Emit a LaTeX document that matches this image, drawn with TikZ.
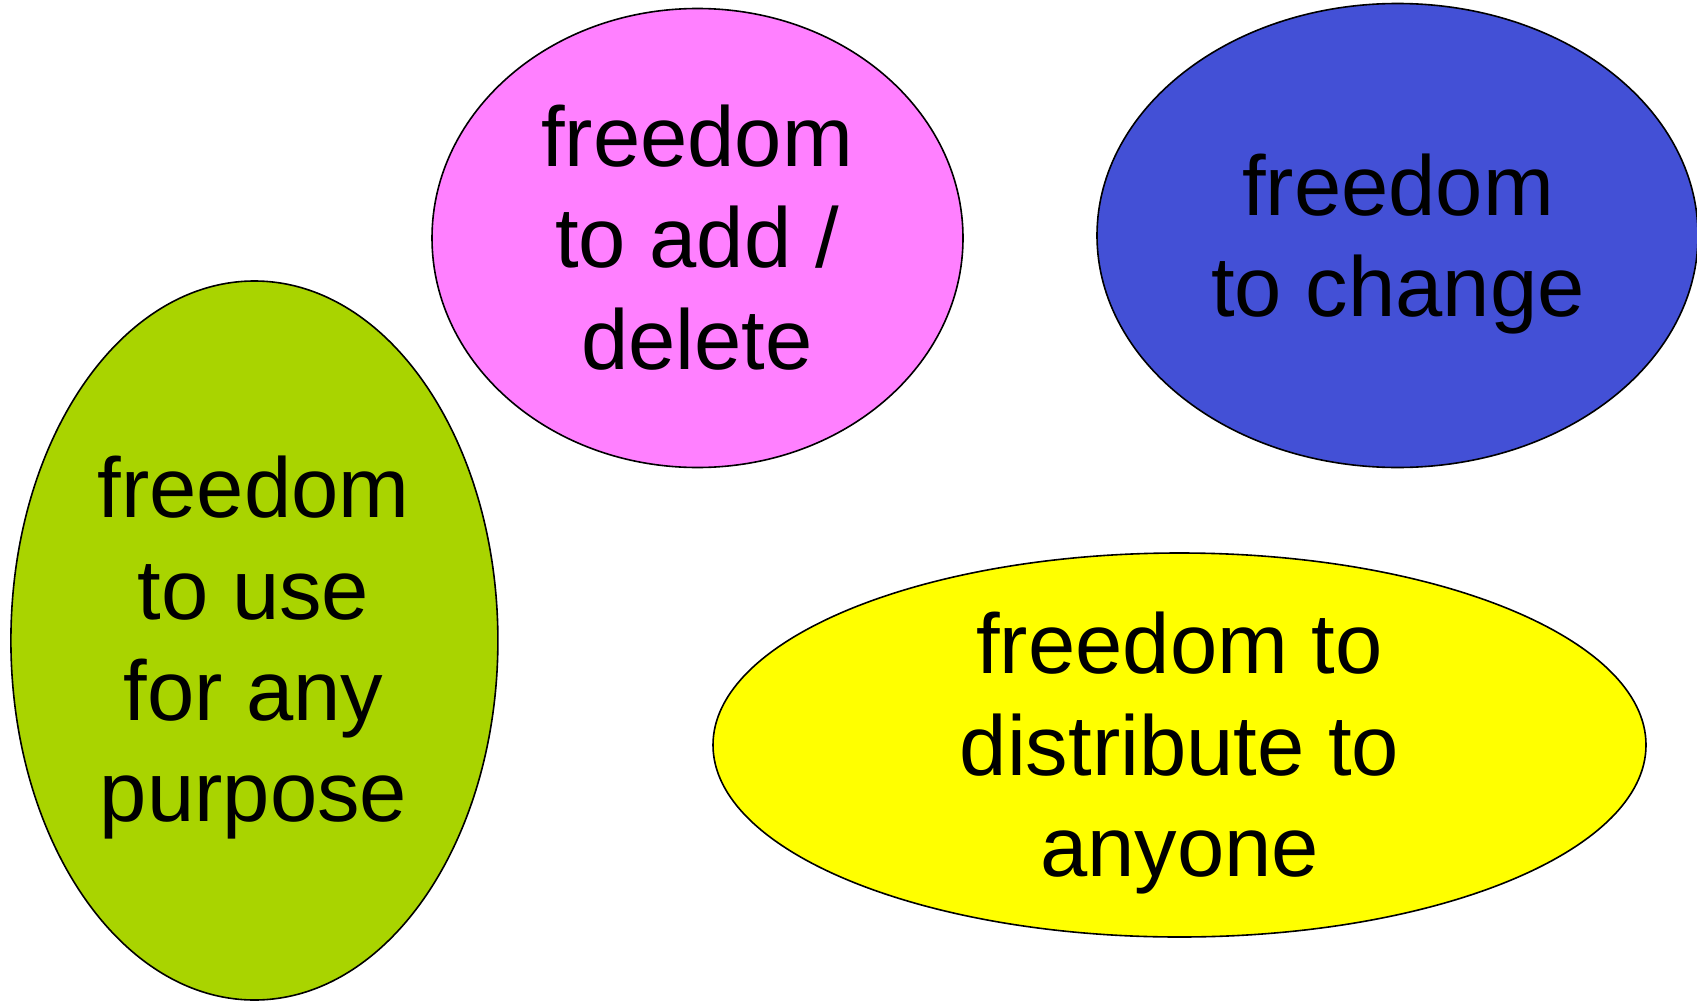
\documentclass[tikz,border=0pt]{standalone}
\usepackage{fontspec}
\setmainfont{Liberation Sans}
\usetikzlibrary{shapes.geometric}
\definecolor{cgreen}{RGB}{169,212,0}
\definecolor{cpink}{RGB}{255,128,255}
\definecolor{cblue}{RGB}{67,80,214}
\definecolor{cyellow}{RGB}{255,255,0}
\begin{document}
\begin{tikzpicture}[x=1pt,y=-1pt,
  blob/.style={ellipse,draw=black,line width=1.6pt,inner sep=0pt},
  lbl/.style={anchor=base,inner sep=0pt,font=\fontsize{85}{101}\selectfont,text=black}]
\useasboundingbox (0,0) rectangle (1697,1001);
\node[blob,fill=cgreen,minimum width=487pt,minimum height=719pt] (green) at (254.4,640.5) {};
\node[blob,fill=cpink,minimum width=531pt,minimum height=459pt] (pink) at (697.5,238) {};
\node[blob,fill=cblue,minimum width=601pt,minimum height=464pt] (blue) at (1397.5,235.5) {};
\node[blob,fill=cyellow,minimum width=933pt,minimum height=384pt] (yellow) at (1179.5,745) {};
% pink text
\node[lbl] (p1) at (697,166) {freedom};
\node[lbl] (p2) at (697,267.5) {to add /};
\node[lbl] (p3) at (697,369) {delete};
% blue text
\node[lbl] (b1) at (1398,215.5) {freedom};
\node[lbl] (b2) at (1398,316) {to change};
% green text
\node[lbl] (g1) at (253.5,517.5) {freedom};
\node[lbl] (g2) at (253.5,619) {to use};
\node[lbl] (g3) at (253.5,720.5) {for any};
\node[lbl] (g4) at (253.5,821) {purpose};
% yellow text
\node[lbl] (y1) at (1179.5,673.5) {freedom to};
\node[lbl] (y2) at (1179.5,775) {distribute to};
\node[lbl] (y3) at (1179.5,876.5) {anyone};
\end{tikzpicture}
\end{document}
